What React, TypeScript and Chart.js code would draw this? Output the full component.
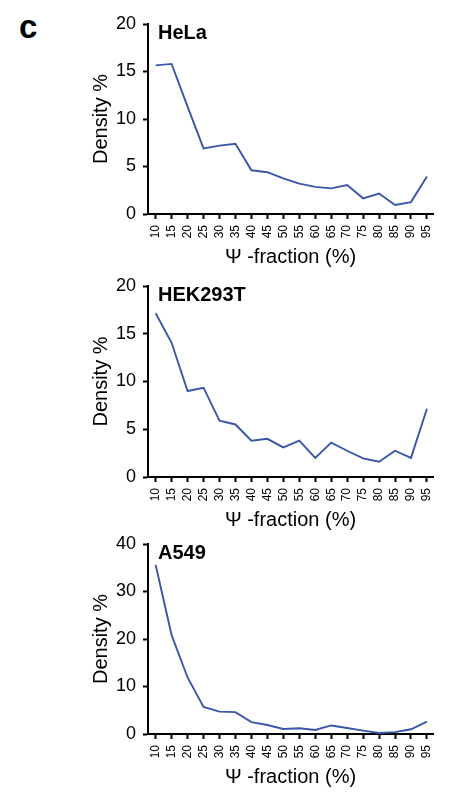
import { useEffect, useRef } from "react";
import { Chart, registerables } from "chart.js";

Chart.register(...registerables);

// Ψ-fraction bins (%)
const fractions = [10, 15, 20, 25, 30, 35, 40, 45, 50, 55, 60, 65, 70, 75, 80, 85, 90, 95];

// Density (%) per cell line
const helaDensity = [15.65, 15.8, 11.3, 6.9, 7.2, 7.4, 4.6, 4.4, 3.75, 3.2, 2.85, 2.7, 3.05, 1.65, 2.15, 0.95, 1.25, 3.95];
const hek293tDensity = [17.15, 14.05, 9.0, 9.35, 5.9, 5.5, 3.8, 4.0, 3.1, 3.8, 2.0, 3.6, 2.75, 1.95, 1.6, 2.75, 2.0, 7.15];
const a549Density = [35.6, 20.8, 11.9, 5.7, 4.7, 4.6, 2.5, 1.9, 1.05, 1.2, 0.85, 1.8, 1.25, 0.7, 0.2, 0.4, 1.0, 2.6];

// y-axis tick values
const ticks20 = [0, 5, 10, 15, 20];
const ticks40 = [0, 10, 20, 30, 40];

const cellLines = ["HeLa", "HEK293T", "A549"];

const FONT = '"Liberation Sans", Arial, Helvetica, sans-serif';
const LINE_COLOR = "#3a56a8";

const panels = [
  { name: cellLines[0], values: helaDensity, yTicks: ticks20, top: 0, height: 269 },
  { name: cellLines[1], values: hek293tDensity, yTicks: ticks20, top: 262, height: 270 },
  { name: cellLines[2], values: a549Density, yTicks: ticks40, top: 520, height: 269 },
];

// Bold cell-line name drawn inside the top-left of the plot area
const cellLabel = {
  id: "cellLabel",
  afterDraw(chart: any, _args: any, opts: any) {
    const { ctx, chartArea } = chart;
    ctx.save();
    ctx.font = `bold 20px ${FONT}`;
    ctx.fillStyle = "#000";
    ctx.textAlign = "left";
    ctx.textBaseline = "alphabetic";
    ctx.fillText(opts.text, chartArea.left + 10, chartArea.top + 15);
    ctx.restore();
  },
};

function DensityPanel({ name, values, yTicks, top, height }: any) {
  const ref = useRef<HTMLCanvasElement | null>(null);

  useEffect(() => {
    if (!ref.current) return;
    const yMax = yTicks[yTicks.length - 1];
    const chart = new Chart(ref.current, {
      type: "line",
      data: {
        datasets: [
          {
            data: fractions.map((f, i) => ({ x: f, y: values[i] })),
            borderColor: LINE_COLOR,
            borderWidth: 1.9,
            pointRadius: 0,
            tension: 0,
            fill: false,
          },
        ],
      },
      options: {
        responsive: false,
        animation: false,
        layout: { padding: { top: 24, left: 89, right: 21, bottom: 0 } },
        plugins: {
          legend: { display: false },
          tooltip: { enabled: false },
          cellLabel: { text: name },
        } as any,
        scales: {
          x: {
            type: "linear",
            min: 7.6,
            max: 96.9,
            afterBuildTicks: (scale: any) => {
              scale.ticks = fractions.map((v) => ({ value: v }));
            },
            afterFit: (scale: any) => {
              scale.height = 55;
            },
            border: { display: true, color: "#000", width: 2 },
            grid: {
              display: true,
              drawOnChartArea: false,
              drawTicks: true,
              tickLength: 5,
              tickWidth: 2,
              tickColor: "#000",
            },
            ticks: {
              autoSkip: false,
              maxRotation: 90,
              minRotation: 90,
              padding: 6,
              color: "#000",
              font: { family: FONT, size: 12 },
              callback: (v: any) => String(v),
            },
            title: {
              display: true,
              text: "Ψ -fraction (%)",
              color: "#000",
              font: { family: FONT, size: 20 },
              padding: 0,
            },
          },
          y: {
            type: "linear",
            min: 0,
            max: yMax,
            afterBuildTicks: (scale: any) => {
              scale.ticks = yTicks.map((v: number) => ({ value: v }));
            },
            afterFit: (scale: any) => {
              scale.width = 59;
            },
            border: { display: true, color: "#000", width: 2 },
            grid: {
              display: true,
              drawOnChartArea: false,
              drawTicks: true,
              tickLength: 5,
              tickWidth: 2,
              tickColor: "#000",
            },
            ticks: {
              padding: 7,
              color: "#000",
              font: { family: FONT, size: 18 },
            },
            title: {
              display: true,
              text: "Density %",
              color: "#000",
              font: { family: FONT, size: 20 },
              padding: 0,
            },
          },
        },
      },
      plugins: [cellLabel],
    });
    return () => chart.destroy();
  }, [name, values, yTicks]);

  return (
    <canvas
      ref={ref}
      width={454}
      height={height}
      style={{ position: "absolute", left: 0, top, width: 454, height }}
    />
  );
}

export default function App() {
  return (
    <div
      style={{
        position: "fixed",
        left: 0,
        top: 0,
        width: 454,
        height: 799,
        background: "#fff",
        overflow: "hidden",
      }}
    >
      <div
        style={{
          position: "absolute",
          left: 19,
          top: 10,
          fontFamily: FONT,
          fontWeight: "bold",
          fontSize: 33,
          lineHeight: "33px",
          color: "#000",
        }}
      >
        c
      </div>
      {panels.map((p) => (
        <DensityPanel key={p.name} {...p} />
      ))}
    </div>
  );
}
